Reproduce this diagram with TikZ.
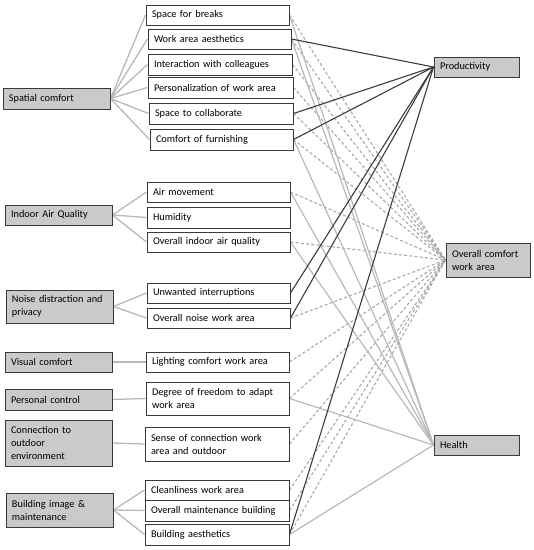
\documentclass[tikz,border=0pt]{standalone}
\usepackage{fontspec}
\setmainfont{Carlito}
\usetikzlibrary{backgrounds}
\definecolor{boxgray}{HTML}{CACACA}
\definecolor{edge}{HTML}{3A3A3A}
\definecolor{lightln}{HTML}{B8B8B8}
\definecolor{dashln}{HTML}{A8A8A8}
\definecolor{darkln}{HTML}{3C3C3C}
\tikzset{
  base/.style={draw=edge, line width=1pt, inner xsep=6pt, inner ysep=0pt, align=left,
    font=\fontsize{10.3}{13}\selectfont},
  catbox/.style={base, fill=boxgray},
  itembox/.style={base, fill=white},
  catln/.style={draw=lightln, line width=1.3pt},
  healthln/.style={draw=lightln, line width=1.2pt},
  comfln/.style={draw=dashln, line width=1.1pt, dash pattern=on 3pt off 2.2pt},
  prodln/.style={draw=darkln, line width=1.1pt},
}
\newcommand\bx[7]{%
  \pgfmathsetmacro\bw{#4-#2}\pgfmathsetmacro\bh{#5-#3}%
  \pgfmathsetmacro\bcx{(#2+#4)/2}\pgfmathsetmacro\bcy{(#3+#5)/2}%
  \pgfmathsetmacro\btw{\bw-12}%
  \node[#7, minimum width=\bw pt, minimum height=\bh pt, text width=\btw pt] (#1) at (\bcx pt,-\bcy pt) {#6};}
\begin{document}
\begin{tikzpicture}
\useasboundingbox (0,0) rectangle (534pt,-550pt);
% categories
\bx{cSp}{3}{88}{110}{109}{Spatial comfort}{catbox}
\bx{cIaq}{5}{205}{112}{225}{Indoor Air Quality}{catbox}
\bx{cNo}{6}{290}{113}{323}{Noise distraction and\\privacy}{catbox}
\bx{cVi}{5}{352}{112}{372}{Visual comfort}{catbox}
\bx{cPc}{5}{389}{112}{410}{Personal control}{catbox}
\bx{cCo}{5}{420}{112}{466}{Connection to\\outdoor\\environment}{catbox}
\bx{cBi}{6}{493}{113}{527}{Building image \&\\maintenance}{catbox}
% items
\bx{sb}{146}{5}{289}{25}{Space for breaks}{itembox}
\bx{wa}{148}{29}{291}{49}{Work area aesthetics}{itembox}
\bx{iw}{148}{54}{292}{75}{Interaction with colleagues}{itembox}
\bx{pw}{148}{77}{293}{98}{Personalization of work area}{itembox}
\bx{sc}{149}{103}{293}{124}{Space to collaborate}{itembox}
\bx{cf}{150}{129}{293}{150}{Comfort of furnishing}{itembox}
\bx{am}{147}{182}{290}{202}{Air movement}{itembox}
\bx{hu}{147}{207}{290}{228}{Humidity}{itembox}
\bx{oi}{147}{232}{290}{252}{Overall indoor air quality}{itembox}
\bx{ui}{147}{283}{290}{303}{Unwanted interruptions}{itembox}
\bx{on}{147}{308}{290}{328}{Overall noise work area}{itembox}
\bx{lc}{146}{352}{289}{372}{Lighting comfort work area}{itembox}
\bx{df}{146}{382}{289}{415}{Degree of freedom to adapt\\work area}{itembox}
\bx{sn}{145}{427}{289}{461}{Sense of connection work\\area and outdoor}{itembox}
\bx{cl}{145}{480}{289}{500}{Cleanliness work area}{itembox}
\bx{om}{145}{500}{289}{521}{Overall maintenance building}{itembox}
\bx{ba}{145}{524}{289}{545}{Building aesthetics}{itembox}
% outcomes
\bx{pr}{434}{57}{519}{77}{Productivity}{catbox}
\bx{oc}{446}{243}{530}{277}{Overall comfort\\work area}{catbox}
\bx{he}{434}{435}{519}{455}{Health}{catbox}
\begin{scope}[on background layer]
% category links
\foreach \i in {sb,wa,iw,pw,sc,cf} \draw[catln] (cSp.east) -- (\i.west);
\foreach \i in {am,hu,oi} \draw[catln] (cIaq.east) -- (\i.west);
\foreach \i in {ui,on} \draw[catln] (cNo.east) -- (\i.west);
\draw[catln] (cVi.east) -- (lc.west);
\draw[catln] (cPc.east) -- (df.west);
\draw[catln] (cCo.east) -- (sn.west);
\foreach \i in {cl,om,ba} \draw[catln] (cBi.east) -- (\i.west);
% overall comfort (dashed)
\foreach \i in {sb,wa,iw,pw,sc,cf,am,oi,on,lc,df,sn,cl,om,ba} \draw[comfln] (\i.east) -- (oc.west);
% health
\foreach \i in {sb,wa,cf,am,oi,df,ba} \draw[healthln] (\i.east) -- (he.west);
% productivity
\foreach \i in {wa,sc,cf,ui,on,ba} \draw[prodln] (\i.east) -- (pr.west);
\end{scope}
\end{tikzpicture}
\end{document}
